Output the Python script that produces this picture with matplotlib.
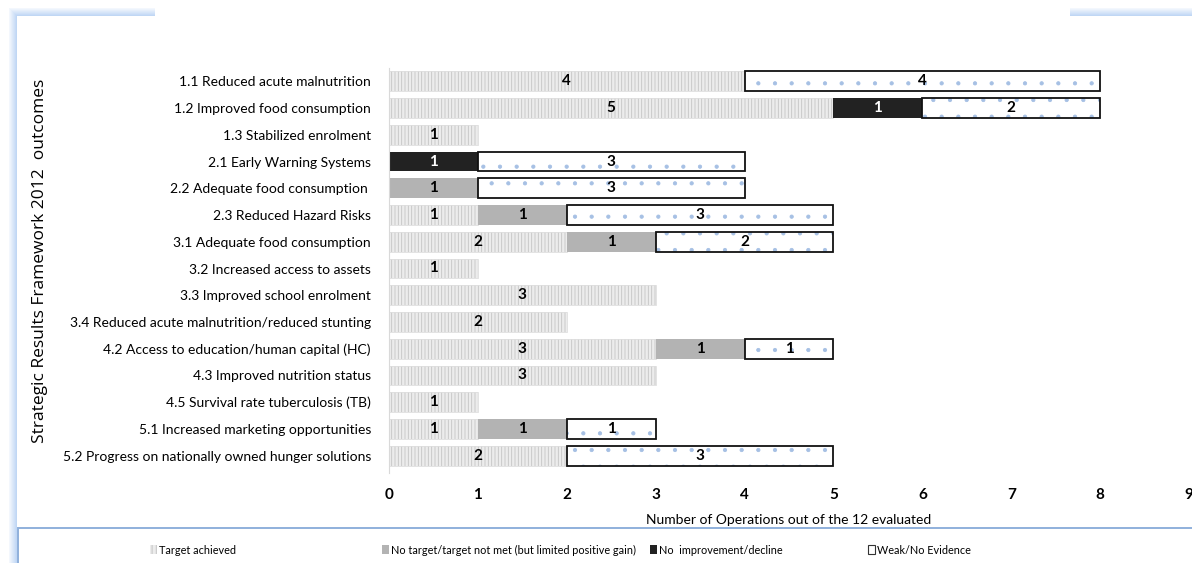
import matplotlib
matplotlib.use('Agg')
import matplotlib.pyplot as plt
from matplotlib.patches import Rectangle
import numpy as np

plt.rcParams['font.family'] = ['Lato', 'DejaVu Sans']
plt.rcParams['hatch.linewidth'] = 0.6

# Data (top to bottom)
outcomes = [
    '1.1 Reduced acute malnutrition',
    '1.2 Improved food consumption',
    '1.3 Stabilized enrolment',
    '2.1 Early Warning Systems',
    '2.2 Adequate food consumption ',
    '2.3 Reduced Hazard Risks',
    '3.1 Adequate food consumption',
    '3.2 Increased access to assets',
    '3.3 Improved school enrolment',
    '3.4 Reduced acute malnutrition/reduced stunting',
    '4.2 Access to education/human capital (HC)',
    '4.3 Improved nutrition status',
    '4.5 Survival rate tuberculosis (TB)',
    '5.1 Increased marketing opportunities',
    '5.2 Progress on nationally owned hunger solutions',
]
target_achieved = [4, 5, 1, 0, 0, 1, 2, 1, 3, 2, 3, 3, 1, 1, 2]
no_target = [0, 0, 0, 0, 1, 1, 1, 0, 0, 0, 1, 0, 0, 1, 0]
no_improvement = [0, 1, 0, 1, 0, 0, 0, 0, 0, 0, 0, 0, 0, 0, 0]
weak_evidence = [4, 2, 0, 3, 3, 3, 2, 0, 0, 0, 1, 0, 0, 1, 3]

series_names = ['Target achieved',
                'No target/target not met (but limited positive gain)',
                'No  improvement/decline',
                'Weak/No Evidence']
x_ticks = [0, 1, 2, 3, 4, 5, 6, 7, 8, 9]

fig = plt.figure(figsize=(11.92, 5.63), dpi=100)
W, H = 1192.0, 563.0

# blue frame glow on top and left (kept behind the axes)
bg = dict(transform=fig.transFigure, lw=0, zorder=-10)
for i in range(8):
    a = 0.12 + 0.08 * i
    fig.patches.append(Rectangle(((9 + i) / W, 0), 1 / W, 1 - (9 + i) / H,
                                 color='#a3c4f0', alpha=a, **bg))
    fig.patches.append(Rectangle(((9 + i) / W, 1 - (9 + i) / H), 1, 1 / H,
                                 color='#a3c4f0', alpha=a, **bg))
fig.patches.append(Rectangle((18 / W, 0), 1, 1 - 19 / H, color='white', **bg))
fig.patches.append(Rectangle((155 / W, 1 - 17 / H), (1070 - 155) / W, 10 / H,
                             color='white', **bg))

ax = fig.add_axes([389 / W, 1 - 469 / H, 800 / W, 401 / H])
ax.patch.set_alpha(0)
y = np.arange(len(outcomes))
h = 0.74

left = np.zeros(len(outcomes))
ta = np.array(target_achieved, float)
nt = np.array(no_target, float)
ni = np.array(no_improvement, float)
we = np.array(weak_evidence, float)

ax.barh(y, ta, left=left, height=h, color='#ececec', edgecolor='#c4c4c4',
        hatch='|||||', linewidth=0)
ax.barh(y, ta, left=left, height=h, fill=False, edgecolor='#dedede', linewidth=0.6)
left = left + ta
ax.barh(y, nt, left=left, height=h, color='#b3b3b3', linewidth=0)
left = left + nt
ax.barh(y, ni, left=left, height=h, color='#222222', linewidth=0)
left = left + ni
mask = we > 0
ax.barh(y[mask], we[mask], left=left[mask], height=h, color='white', edgecolor='#a6c0e4',
        hatch='.', linewidth=0)
ax.barh(y[mask], we[mask], left=left[mask], height=h, fill=False, edgecolor='#111111',
        linewidth=1.3)

# value labels
starts = np.zeros(len(outcomes))
for vals in [ta, nt, ni, we]:
    for i, v in enumerate(vals):
        if v > 0:
            col = 'white' if vals is ni else 'black'
            ax.text(starts[i] + v / 2, y[i], f'{int(v)}', ha='center', va='center',
                    fontsize=11, fontweight='bold', color=col)
    starts = starts + vals

ax.set_yticks(y)
ax.set_yticklabels(outcomes, fontsize=10)
ax.set_ylim(len(outcomes) - 0.5, -0.5)
ax.set_xlim(0, 9)
ax.set_xticks(x_ticks)
ax.set_xticklabels([str(t) for t in x_ticks], fontsize=11, fontweight='bold')
ax.tick_params(axis='both', length=0)
ax.tick_params(axis='x', pad=14)
ax.tick_params(axis='y', pad=13)
for s in ['top', 'right', 'bottom']:
    ax.spines[s].set_visible(False)
ax.spines['left'].set_color('#d9d9d9')
ax.spines['left'].set_bounds(len(outcomes) - 0.35, -0.5)
ax.set_xlabel('Number of Operations out of the 12 evaluated', fontsize=10, labelpad=8)

fig.text(40 / W, 1 - 261 / H, 'Strategic Results Framework 2012  outcomes', rotation=90,
         ha='center', va='center', fontsize=12.5, family=['Open Sans', 'DejaVu Sans'])

# legend box
fig.patches.append(Rectangle((18 / W, -0.01), 1, 0.01 + 1 - 528 / H,
                             transform=fig.transFigure, facecolor='white',
                             edgecolor='#8fb0dc', lw=1.4, zorder=-5))
leg_x = [150, 382, 650, 868]
styles = [dict(facecolor='#ececec', edgecolor='#bdbdbd', hatch='||||', lw=0),
          dict(facecolor='#b3b3b3', edgecolor='none', lw=0),
          dict(facecolor='#222222', edgecolor='none', lw=0),
          dict(facecolor='white', edgecolor='#333333', lw=0.8)]
for lx, name, st in zip(leg_x, series_names, styles):
    fig.patches.append(Rectangle((lx / W, 1 - 554 / H), 7 / W, 9 / H,
                                 transform=fig.transFigure, **st))
    fig.text((lx + 9) / W, 1 - 550 / H, name, ha='left', va='center', fontsize=7.8)

fig.savefig('out.png', dpi=100)
